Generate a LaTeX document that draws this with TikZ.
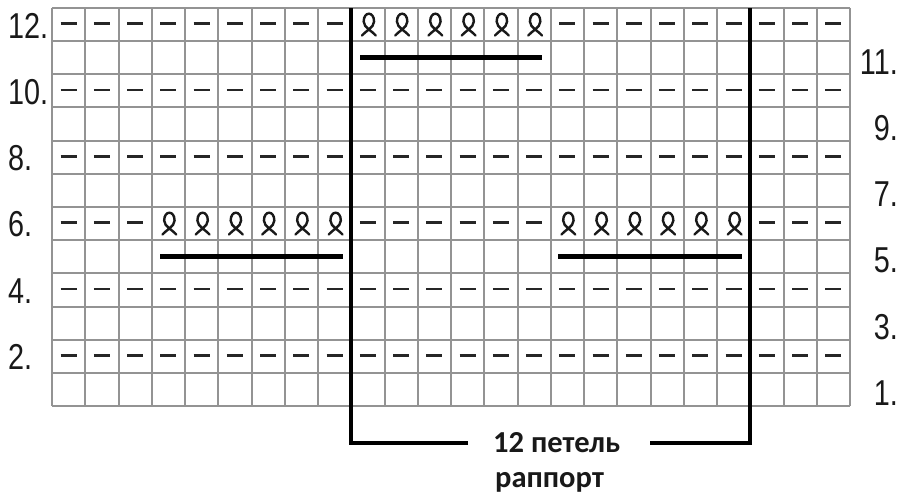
\documentclass[tikz,border=0pt]{standalone}
\usepackage{fontspec}
\newfontfamily\numfont[FakeStretch=0.8]{Liberation Sans}
\newfontfamily\capfont{Carlito}
\begin{document}
\begin{tikzpicture}[x=1pt,y=-1pt,
  gridline/.style={draw=gray!85!white,line width=2pt},
  dashmark/.style={draw=black!85,line width=2.8pt},
  loopmark/.style={draw=black!90,line width=2.4pt,line cap=round},
  thickbar/.style={draw=black,line width=5pt},
  bracket/.style={draw=black,line width=4pt,line join=miter},
  rowlbl/.style={font=\numfont\fontsize{36}{38}\selectfont,inner sep=0pt,text=black!90},
  caption/.style={font=\capfont\bfseries\fontsize{30.5}{33}\selectfont,inner sep=0pt,text=black!90}]
\useasboundingbox (0,0) rectangle (899,500);
\fill[white] (0,0) rectangle (899,500);
\def\cw{33.25}\def\ch{33.1667}
% grid
\foreach \i in {0,...,24} \draw[gridline] ({52+\i*\cw},8) -- ({52+\i*\cw},406);
\foreach \j in {0,...,12} \draw[gridline] (52,{8+\j*\ch}) -- (850,{8+\j*\ch});
% dashes
\foreach \r/\cols in {2/{1,...,24},4/{1,...,24},8/{1,...,24},10/{1,...,24},
   12/{1,...,9,16,17,...,24},6/{1,2,3,10,11,...,15,22,23,24}}{
  \foreach \c in \cols {
    \draw[dashmark] ({52+(\c-0.5)*\cw-8},{406-(\r-0.5)*\ch-1}) -- ++(16,0);
  }
}
% loops
\foreach \r/\cols in {12/{10,...,15},6/{4,...,9,16,17,...,21}}{
  \foreach \c in \cols {
    \pgfmathsetmacro\cx{52+(\c-0.5)*\cw+1}
    \pgfmathsetmacro\cy{406-(\r-0.5)*\ch}
    \draw[loopmark] (\cx-7,\cy+11) .. controls (\cx-4,\cy+7) and (\cx+5.2,\cy+3) .. (\cx+5.2,\cy-3)
      .. controls (\cx+5.2,\cy-13.5) and (\cx-5.2,\cy-13.5) .. (\cx-5.2,\cy-3)
      .. controls (\cx-5.2,\cy+3) and (\cx+4,\cy+7) .. (\cx+7,\cy+11);
  }
}
% bars
\draw[thickbar] (360,57.5) -- (542,57.5);
\draw[thickbar] (160,256.5) -- (343,256.5);
\draw[thickbar] (558,256.5) -- (742,256.5);
% repeat bracket
\coordinate (lt) at (351.25,8);
\coordinate (lb) at (351.25,443);
\coordinate (le) at (468,443);
\coordinate (rt) at (750.25,8);
\coordinate (rb) at (750.25,443);
\coordinate (re) at (650,443);
\draw[bracket] (le) -- (lb) -- (lt);
\draw[bracket] (re) -- (rb) -- (rt);
\node[caption,anchor=base west] (cap1) at (493,452) {12 петель};
\node[caption,anchor=base west] (cap2) at (495,487) {раппорт};
% row labels
\foreach \r in {2,4,...,12} \node[rowlbl,anchor=west] (L\r) at (8,{406-(\r-0.5)*\ch+1}) {\r.};
\foreach \r in {1,3,...,11} \node[rowlbl,anchor=east] (R\r) at (898,{406-(\r-0.5)*\ch+4}) {\r.};
\end{tikzpicture}
\end{document}
